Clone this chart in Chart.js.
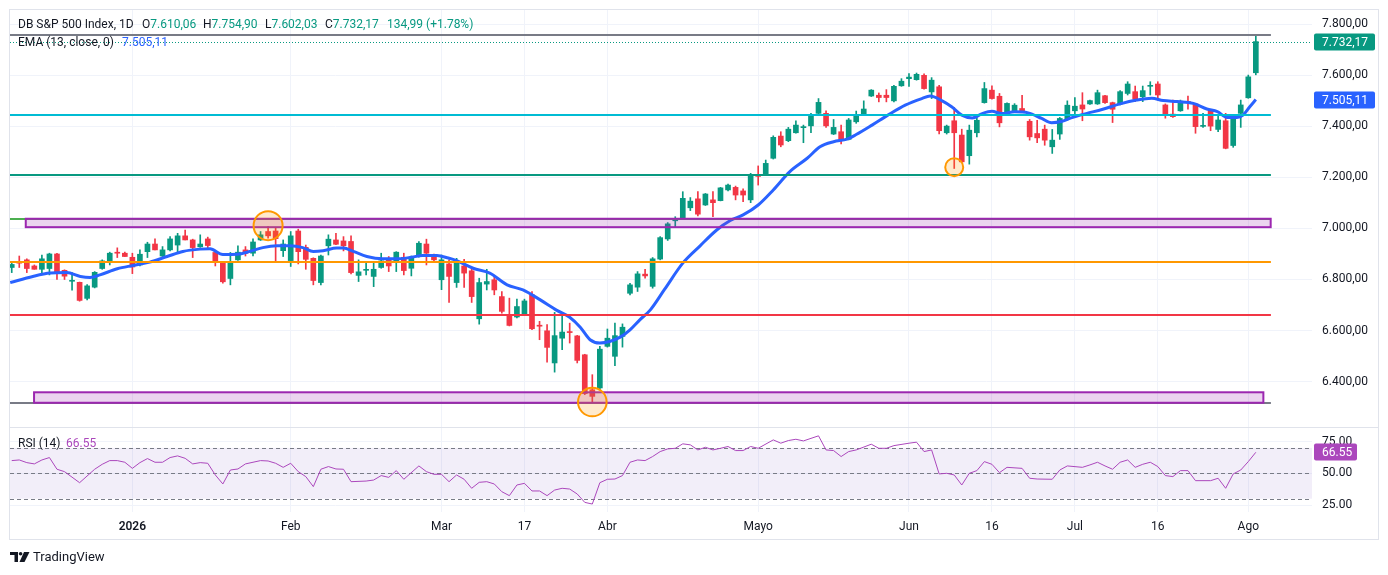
<!DOCTYPE html>
<html>
<head>
<meta charset="utf-8">
<title>DB S&amp;P 500 Index, 1D</title>
<script src="https://cdn.jsdelivr.net/npm/chart.js@4.4.1/dist/chart.umd.min.js"></script>
<style>
  html, body { margin: 0; padding: 0; background: #fff; }
  body { width: 1388px; height: 575px; position: relative; overflow: hidden;
         font-family: Roboto, 'Liberation Sans', sans-serif; color: #131722; }
  #frame { position: absolute; left: 9px; top: 9px; width: 1368px; height: 529px; border: 1px solid #E0E3EB; }
  #sep { position: absolute; left: 10px; top: 427px; width: 1368px; height: 1px; background: #E0E3EB; }
  #mainBox { position: absolute; left: 10px; top: 10px; width: 1368px; height: 417px; }
  #rsiBox { position: absolute; left: 10px; top: 428px; width: 1368px; height: 112px; }
  .t { position: absolute; font-size: 12px; line-height: 14px; white-space: nowrap; }
  .g { color: #089981; }
  .b { color: #2962FF; }
  .p { color: #AB47BC; }
  #logo { position: absolute; left: 10px; top: 552px; }
  #brand { position: absolute; left: 33px; top: 549px; font-size: 13px; line-height: 16px; }
</style>
</head>
<body>
<div id="frame"></div>
<div id="mainBox"><canvas id="main"></canvas></div>
<div id="sep"></div>
<div id="rsiBox"><canvas id="rsi"></canvas></div>

<div class="t" style="left:18px;top:17px">DB S&amp;P 500 Index, 1D</div>
<div class="t" style="left:142px;top:17px">O<span class="g">7.610,06</span></div>
<div class="t" style="left:203px;top:17px">H<span class="g">7.754,90</span></div>
<div class="t" style="left:265px;top:17px">L<span class="g">7.602,03</span></div>
<div class="t" style="left:325px;top:17px">C<span class="g">7.732,17</span></div>
<div class="t g" style="left:387px;top:17px">134,99 (+1.78%)</div>
<div class="t" style="left:18px;top:35px">EMA (13, close, 0)</div>
<div class="t b" style="left:122px;top:35px">7.505,11</div>
<div class="t" style="left:18px;top:436px">RSI (14)</div>
<div class="t p" style="left:66px;top:436px">66.55</div>

<svg id="logo" width="20" height="10" viewBox="0 0 20 10">
  <path d="M0 0H8V10H4.5V3H0Z" fill="#131722"/>
  <circle cx="10.6" cy="1.8" r="1.8" fill="#131722"/>
  <path d="M14 0H19.5L14.5 10H9.5Z" fill="#131722"/>
</svg>
<div id="brand">TradingView</div>

<script>
// time axis
const xTickPos = [16, 37, 57, 68, 79, 99, 119, 130, 141, 152, 164];
const xTickText = ['2026', 'Feb', 'Mar', '17', 'Abr', 'Mayo', 'Jun', '16', 'Jul', '16', 'Ago'];
const priceTicks = [6400, 6600, 6800, 7000, 7200, 7400, 7600, 7800];
const rsiTicks = [25, 50, 75];
const rsiBands = [70, 50, 30];

// daily candles
const opens = [
  6847,6866,6877,6853,6840,6843,6900,6836,6793,6789,
  6726,6770,6843,6870,6906,6903,6887,6857,6909,6939,
  6892,6916,6935,6971,6955,6928,6959,6906,6866,6804,
  6877,6916,6903,6955,6988,6990,6913,6874,6990,6926,
  6883,6788,6932,6955,6951,6949,6816,6836,6812,6847,
  6883,6866,6887,6844,6890,6939,6892,6799,6861,6788,
  6853,6834,6646,6782,6799,6733,6658,6653,6666,6740,
  6620,6599,6473,6570,6594,6579,6505,6368,6375,6538,
  6499,6577,6746,6770,6821,6773,6880,6959,7030,7037,
  7081,7116,7092,7112,7109,7151,7161,7147,7112,7206,
  7209,7275,7362,7344,7375,7395,7402,7451,7451,7370,
  7379,7349,7418,7446,7519,7522,7522,7500,7559,7587,
  7583,7600,7535,7555,7375,7422,7366,7285,7375,7493,
  7542,7518,7457,7461,7470,7420,7372,7389,7320,7370,
  7427,7461,7484,7488,7488,7520,7493,7488,7529,7536,
  7516,7557,7566,7484,7448,7461,7497,7488,7400,7460,
  7388,7422,7325,7451,7512,7610.06
];
const highs = [
  6868,6892,6881,6857,6896,6903,6903,6838,6827,6790,
  6780,6831,6877,6907,6924,6907,6903,6916,6946,6959,
  6929,6968,6981,6994,6958,6975,6966,6908,6868,6906,
  6932,6929,6959,6988,7007,7001,6955,6988,6997,6935,
  6885,6896,6975,6981,6968,6971,6877,6870,6864,6903,
  6890,6909,6903,6892,6949,6958,6900,6896,6877,6883,
  6879,6844,6805,6840,6814,6753,6727,6723,6723,6753,
  6636,6623,6671,6666,6629,6581,6507,6427,6538,6606,
  6629,6626,6785,6831,6840,6886,6968,7023,7046,7144,
  7121,7144,7137,7144,7161,7174,7166,7155,7216,7245,
  7268,7363,7379,7396,7422,7405,7451,7509,7461,7427,
  7405,7431,7460,7500,7544,7531,7544,7561,7587,7607,
  7609,7606,7591,7561,7405,7474,7389,7405,7440,7572,
  7559,7529,7492,7489,7522,7427,7424,7405,7388,7435,
  7500,7513,7532,7503,7542,7522,7495,7540,7575,7558,
  7558,7575,7575,7488,7503,7503,7519,7490,7451,7467,
  7445,7451,7445,7503,7601,7754.90
];
const lows = [
  6827,6847,6827,6840,6825,6818,6800,6800,6758,6715,
  6720,6767,6840,6857,6886,6890,6823,6853,6886,6916,
  6890,6912,6909,6955,6886,6926,6922,6853,6786,6779,
  6875,6892,6892,6953,6962,6870,6890,6851,6861,6840,
  6779,6779,6896,6936,6912,6822,6792,6818,6772,6844,
  6831,6831,6818,6814,6887,6857,6870,6760,6710,6769,
  6769,6710,6625,6759,6740,6668,6618,6649,6664,6603,
  6564,6476,6437,6525,6551,6473,6349,6320,6368,6535,
  6462,6535,6740,6753,6805,6766,6877,6953,7007,7035,
  7070,7049,7090,7046,7108,7147,7112,7105,7101,7170,
  7207,7272,7320,7340,7373,7336,7375,7449,7396,7368,
  7331,7347,7412,7444,7517,7496,7496,7496,7557,7557,
  7581,7546,7509,7370,7370,7235,7259,7252,7359,7491,
  7507,7398,7453,7454,7457,7346,7336,7326,7294,7349,
  7425,7450,7422,7486,7486,7490,7415,7484,7523,7497,
  7497,7523,7503,7432,7435,7459,7467,7373,7396,7383,
  7379,7312,7318,7396,7510,7602.03
];
const closes = [
  6859,6864,6843,6840,6881,6900,6825,6813,6796,6718,
  6775,6828,6873,6903,6903,6890,6849,6899,6939,6916,
  6916,6959,6971,6955,6925,6939,6933,6866,6791,6866,
  6907,6903,6947,6975,6971,6960,6939,6971,6909,6879,
  6796,6892,6958,6938,6932,6827,6830,6838,6840,6873,
  6853,6907,6835,6887,6942,6903,6877,6877,6812,6864,
  6825,6733,6788,6792,6759,6675,6620,6694,6716,6607,
  6617,6534,6580,6594,6592,6483,6353,6342,6527,6570,
  6580,6613,6779,6822,6814,6881,6964,7018,7033,7118,
  7107,7056,7135,7101,7159,7170,7131,7131,7206,7204,
  7255,7357,7327,7389,7405,7398,7440,7494,7402,7396,
  7349,7425,7442,7468,7542,7513,7513,7557,7577,7593,
  7604,7548,7581,7383,7401,7375,7261,7385,7424,7548,
  7509,7414,7490,7483,7461,7359,7355,7346,7346,7431,
  7483,7479,7468,7501,7532,7493,7467,7536,7566,7507,
  7540,7559,7523,7445,7438,7499,7494,7399,7403,7401,
  7425,7314,7435,7484,7594,7732.17
];

// EMA(13) line, points (bar position, value)
const emaAt = [-0.2,2.8,5.1,7.3,9.1,10.4,11.7,14,16.1,18.3,20.6,22.7,25,26.3,28,29.9,31.6,33.3,35.2,36.9,
  38.6,40,41.3,43.1,44,45.3,47.1,49.2,51.1,52.8,54.5,56.4,57.9,59,61.2,63.4,65.7,67.8,70.1,72.3,
  74,75.4,76.7,78,79.3,80.7,82,83.3,84.7,86.6,89,91.3,93.5,95.3,97,99,101,103.2,105.5,107.2,
  109,110.8,112,114.1,116.2,118.5,120.7,121.8,123.4,124.7,126,127.4,128.7,130,131.3,133,134.8,136.6,137.9,139.3,
  140.5,141.7,142.6,144.7,147,149.2,151.2,152.7,154.6,156.7,158.5,159.9,161.2,162.5,163.3,164.2,165];
const emaVal = [6788,6812,6825,6827,6812,6808,6818,6842,6855,6868,6890,6910,6919,6920,6898,6899,6910,6925,6932,6932,
  6925,6910,6913,6923,6923,6910,6890,6881,6881,6886,6894,6894,6884,6874,6844,6825,6779,6759,6720,6679,
  6652,6613,6564,6551,6557,6574,6603,6642,6681,6762,6864,6932,6994,7031,7053,7092,7151,7223,7275,7320,
  7340,7350,7368,7405,7444,7483,7509,7519,7500,7476,7444,7433,7450,7459,7450,7457,7453,7431,7414,7420,
  7433,7444,7451,7467,7488,7503,7510,7501,7497,7490,7468,7458,7435,7435,7444,7477,7505.11];

// RSI(14) (bar, value)
const rsiAt = [0,1,2,3,4,5,6,7,9,11,12,13,14,15,16,17,18,19,20,21,22,23,24,25,26,27,28,29,30,31,
  33,34,35,36,37,38,39,40,41,42,43,44,45,47,48,49,50,51,52,54,55,56,57,58,59,60,61,62,63,64,
  65,66,67,68,69,70,71,72,73,74,75,76,77,78,79,80,81,82,83,84,85,86,87,88,89,90,91,92,93,94,
  95,96,97,98,99,101,102,103,104,105,107,108,109,110,111,112,114,115,116,117,119,120,121,122,123,124,125,126,127,128,
  129,130,131,132,134,135,136,138,139,140,142,143,144,145,146,147,148,149,150,151,152,153,154,155,156,157,159,160,161,162,
  163,164,165];
const rsiVal = [60.0,60.5,58.4,57.4,60.5,62.4,53.2,51.3,42.6,53.2,57.1,60.0,60.0,58.7,53.9,58.4,61.6,58.7,58.7,62.4,63.7,61.8,57.4,58.4,57.9,48.7,41.6,52.6,53.4,57.4,
  60.0,59.7,57.9,54.7,57.9,51.3,47.4,39.5,53.2,55.3,53.4,53.2,43.4,43.9,44.7,48.2,46.8,52.1,45.3,55.8,51.3,49.2,49.2,43.4,48.7,45.3,38.2,42.9,43.4,41.6,
  35.5,32.4,40.8,42.1,36.1,36.1,32.4,36.8,38.2,37.6,33.7,27.1,25.8,42.6,45.3,45.5,48.2,58.7,60.5,60.0,63.2,67.1,69.2,69.7,73.2,72.4,68.4,70.5,68.4,69.7,
  71.1,67.9,67.9,71.1,69.7,76.3,73.7,75.8,76.8,75.5,79.5,68.4,67.9,63.2,67.1,68.4,72.9,69.7,69.7,71.8,73.7,74.5,67.1,68.4,49.5,50.0,48.7,40.8,50.0,52.1,
  59.2,57.1,50.5,54.7,53.9,46.1,45.5,45.3,52.6,55.8,54.7,56.6,58.7,55.8,53.2,58.7,60.5,54.7,57.1,58.7,55.3,48.2,47.4,52.1,52.1,44.2,44.2,46.1,38.2,49.5,
  52.6,59.2,66.55];

// drawings on the price pane
const levelPrices = [7758, 7445, 7209, 7038, 6867, 6662, 6317];
const zoneLow = [7005, 6317];
const zoneHigh = [7038, 6358];
const zoneFrom = [1.86, 2.96];
const zoneTo = [166.97, 166.0];
const markAt = [34, 77, 125];
const markPrice = [7011, 6320, 7240];

const X_MIN = -0.23, X_MAX = 172.45;
const UP = '#089981', DOWN = '#F23645', GRID = '#F0F3FA', TEXT = '#131722';
const FONT = "Roboto, 'Liberation Sans', sans-serif";
const levelColors = ['#787B86', '#00BCD4', '#089981', '#4CAF50', '#FF9800', '#F23645', '#787B86'];
const LEVEL_END = 167.0;
const markRadius = [14.5, 14.3, 9];
const RSI_COLOR = '#AB47BC';

Chart.defaults.font.family = FONT;
Chart.defaults.font.size = 12;
Chart.defaults.color = TEXT;

function fmtPrice(v) {
  const parts = Number(v).toFixed(2).split('.');
  return parts[0].replace(/\B(?=(\d{3})+(?!\d))/g, '.') + ',' + parts[1];
}

function tag(ctx, area, py, text, color, w) {
  ctx.save();
  ctx.fillStyle = color;
  ctx.beginPath();
  ctx.roundRect(area.right + 2, Math.round(py) - 8.5, w, 17, 2);
  ctx.fill();
  ctx.fillStyle = '#fff';
  ctx.font = '12px ' + FONT;
  ctx.textBaseline = 'middle';
  ctx.textAlign = 'left';
  ctx.fillText(text, area.right + 10, Math.round(py) + 0.5);
  ctx.restore();
}

const drawings = {
  id: 'drawings',
  afterDatasetsDraw(chart) {
    const { ctx, chartArea: a, scales: { x, y } } = chart;
    ctx.save();
    ctx.beginPath();
    ctx.rect(a.left, a.top, a.width, a.height);
    ctx.clip();

    // last price dotted line
    const lp = Math.round(y.getPixelForValue(closes[closes.length - 1])) + 0.5;
    ctx.strokeStyle = UP;
    ctx.lineWidth = 1;
    ctx.setLineDash([1, 2]);
    ctx.beginPath(); ctx.moveTo(a.left, lp); ctx.lineTo(a.right, lp); ctx.stroke();
    ctx.setLineDash([]);

    // horizontal levels
    ctx.lineWidth = 2;
    levelPrices.forEach((p, i) => {
      const py = Math.round(y.getPixelForValue(p));
      ctx.strokeStyle = levelColors[i];
      ctx.beginPath();
      ctx.moveTo(a.left, py);
      ctx.lineTo(x.getPixelForValue(LEVEL_END), py);
      ctx.stroke();
    });

    // zones
    zoneLow.forEach((lo, i) => {
      const x0 = x.getPixelForValue(zoneFrom[i]), x1 = x.getPixelForValue(zoneTo[i]);
      const y0 = y.getPixelForValue(zoneHigh[i]), y1 = y.getPixelForValue(lo);
      ctx.fillStyle = 'rgba(156,39,176,0.2)';
      ctx.fillRect(x0, y0, x1 - x0, y1 - y0);
      ctx.strokeStyle = '#9C27B0';
      ctx.lineWidth = 2;
      ctx.strokeRect(x0, y0, x1 - x0, y1 - y0);
    });

    // circles
    markAt.forEach((m, i) => {
      ctx.beginPath();
      ctx.arc(x.getPixelForValue(m), y.getPixelForValue(markPrice[i]), markRadius[i], 0, Math.PI * 2);
      ctx.fillStyle = 'rgba(255,152,0,0.2)';
      ctx.fill();
      ctx.strokeStyle = '#FF9800';
      ctx.lineWidth = 2;
      ctx.stroke();
    });
    ctx.restore();
  },
  afterDraw(chart) {
    const { ctx, chartArea: a, scales: { y } } = chart;
    tag(ctx, a, y.getPixelForValue(closes[closes.length - 1]), fmtPrice(closes[closes.length - 1]), UP, 61);
    tag(ctx, a, y.getPixelForValue(emaVal[emaVal.length - 1]), fmtPrice(emaVal[emaVal.length - 1]), '#2962FF', 61);
  }
};

const candleColor = closes.map((c, i) => (c >= opens[i] ? UP : DOWN));

function timeAxis(showLabels) {
  return {
    type: 'linear', min: X_MIN, max: X_MAX, offset: false,
    afterBuildTicks: s => { s.ticks = xTickPos.map(v => ({ value: v })); },
    afterFit: s => { s.height = showLabels ? 28 : 0; s.paddingLeft = 0; s.paddingRight = 0; },
    ticks: {
      display: showLabels, autoSkip: false, maxRotation: 0, padding: 8, color: TEXT,
      font: c => ({ size: 12, family: FONT, weight: c.tick && c.tick.value === 16 ? '600' : 'normal' }),
      callback: v => xTickText[xTickPos.indexOf(v)]
    },
    grid: { color: GRID, drawTicks: false, offset: false },
    border: { display: false }
  };
}

new Chart(document.getElementById('main'), {
  type: 'bar',
  data: {
    datasets: [
      {
        type: 'line', label: 'EMA', order: 0,
        data: emaAt.map((x, i) => ({ x: x, y: emaVal[i] })),
        borderColor: '#2962FF', borderWidth: 3, pointRadius: 0,
        cubicInterpolationMode: 'monotone'
      },
      {
        label: 'body', order: 1, grouped: false,
        data: closes.map((c, i) => ({ x: i, y: [opens[i], c] })),
        backgroundColor: candleColor, barThickness: 5, minBarLength: 1
      },
      {
        label: 'wick', order: 2, grouped: false,
        data: highs.map((h, i) => ({ x: i, y: [lows[i], h] })),
        backgroundColor: candleColor, barThickness: 1
      }
    ]
  },
  options: {
    animation: false, responsive: true, maintainAspectRatio: false, events: [],
    layout: { padding: 0, autoPadding: false },
    plugins: { legend: { display: false }, tooltip: { enabled: false } },
    scales: {
      x: timeAxis(false),
      y: {
        position: 'right', min: 6222, max: 7856,
        afterBuildTicks: s => { s.ticks = priceTicks.map(v => ({ value: v })); },
        afterFit: s => { s.width = 66; s.paddingTop = 0; s.paddingBottom = 0; },
        ticks: { padding: 10, color: TEXT, callback: v => fmtPrice(v) },
        grid: { color: GRID, drawTicks: false },
        border: { display: false }
      }
    }
  },
  plugins: [drawings]
});

const rsiDecor = {
  id: 'rsiDecor',
  beforeDatasetsDraw(chart) {
    const { ctx, chartArea: a, scales: { y } } = chart;
    const top = y.getPixelForValue(rsiBands[0]), bot = y.getPixelForValue(rsiBands[2]);
    ctx.save();
    ctx.fillStyle = 'rgba(126,87,194,0.1)';
    ctx.fillRect(a.left, top, a.width, bot - top);
    ctx.strokeStyle = '#787B86';
    ctx.lineWidth = 1;
    ctx.setLineDash([4, 3]);
    rsiBands.forEach(v => {
      const py = Math.round(y.getPixelForValue(v)) + 0.5;
      ctx.beginPath(); ctx.moveTo(a.left, py); ctx.lineTo(a.right, py); ctx.stroke();
    });
    ctx.restore();
  },
  afterDraw(chart) {
    const { ctx, chartArea: a, scales: { y } } = chart;
    const last = rsiVal[rsiVal.length - 1];
    tag(ctx, a, y.getPixelForValue(last), last.toFixed(2), RSI_COLOR, 43);
  }
};

new Chart(document.getElementById('rsi'), {
  type: 'line',
  data: {
    datasets: [{
      label: 'RSI',
      data: rsiAt.map((x, i) => ({ x: x, y: rsiVal[i] })),
      borderColor: RSI_COLOR, borderWidth: 1, pointRadius: 0, tension: 0
    }]
  },
  options: {
    animation: false, responsive: true, maintainAspectRatio: false, events: [],
    layout: { padding: 0, autoPadding: false },
    plugins: { legend: { display: false }, tooltip: { enabled: false } },
    scales: {
      x: timeAxis(true),
      y: {
        position: 'right', min: 19.53, max: 85.67,
        afterBuildTicks: s => { s.ticks = rsiTicks.map(v => ({ value: v })); },
        afterFit: s => { s.width = 66; s.paddingTop = 0; s.paddingBottom = 0; },
        ticks: { padding: 10, color: TEXT, callback: v => v.toFixed(2) },
        grid: { color: GRID, drawTicks: false },
        border: { display: false }
      }
    }
  },
  plugins: [rsiDecor]
});
</script>
</body>
</html>
